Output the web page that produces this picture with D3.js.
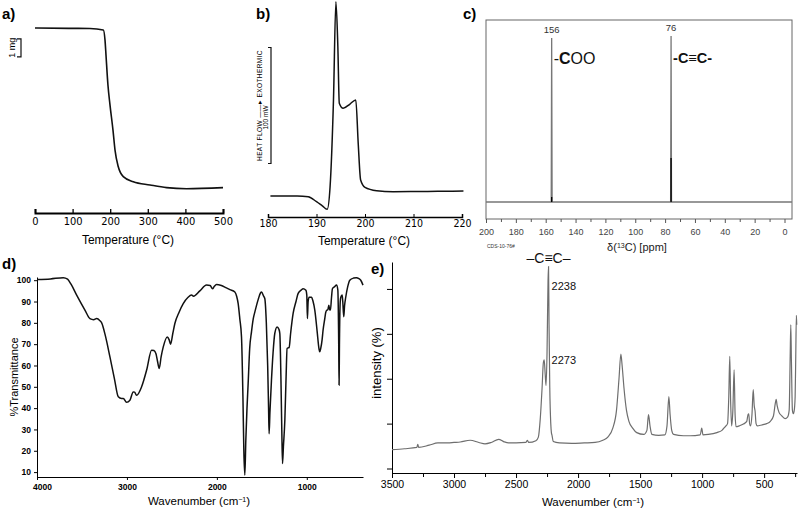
<!DOCTYPE html>
<html><head><meta charset="utf-8">
<script src="https://cdn.jsdelivr.net/npm/d3@7/dist/d3.min.js"></script>
<style>
body{margin:0;background:#fff;}
svg{display:block;font-family:"Liberation Sans",Arial,sans-serif;}
</style></head>
<body>
<svg id="chart" width="800" height="511"></svg>
<script>
// ---------- DATA ----------
// a) TGA: temperature (°C) vs mass (mg)
const tgaTemp = [0,90,146,181.6,186.2,188.8,194,199.5,207.4,212.8,221.5,234.8,261.4,305.9,350,403,500];
const tgaMass = [10,9.98,9.97,9.89,9.33,8.5,6.83,5.72,4.33,3.22,2.29,1.74,1.46,1.28,1.13,1.07,1.13];
const tgaTicks = [0,100,200,300,400,500];
const tgaBar = [8.4,9.4]; // 1 mg scale bar

// b) DSC: temperature (°C) vs heat flow (mW)
const dscTemp = [180.5,183,186,188.3,190,191.2,192.2,192.8,193.5,194.0,194.4,194.7,195.5,196.9,198.1,198.6,199.1,200,202.4,205.8,210,215,220.3];
const dscHeat = [0,0,0,-0.6,-4.9,-8.5,-11.5,8,82.8,167.5,129,80,75.6,79.3,82.8,45.4,13.8,7.5,4.6,3.7,3.8,4.0,4.3];
const dscTicks = [180,190,200,210,220];
const dscBar = [28,128]; // 100 mW scale bar

// c) 13C NMR: shift (ppm) vs intensity
const nmrShift = [200,156.3,156,155.7,76.3,76,75.7,-5];
const nmrInt   = [0,0,98.8,0,0,100,0,0];
const nmrInnerShift = [156,76];
const nmrInnerInt   = [3,26.5];
const nmrPeakLabels = ["156","76"];
const nmrTicks = [200,180,160,140,120,100,80,60,40,20,0];
const nmrMinor = [190,170,150,130,110,90,70,50,30,10];

// d) FTIR: wavenumber (cm-1) vs %Transmittance
const irWave = [4000,3850,3708,3660,3620,3559,3467,3411,3370,3337,3300,3281,3240,3189,3140,3096,3060,3040,3004,2967,2930,2915,2893,2837,2780,2726,2700,2678,2660,2641,2620,2596,2552,2530,2515,2490,2467,2420,2374,2320,2281,2260,2189,2115,2075,2048,2030,2004,1950,1900,1855,1800,1780,1763,1745,1726,1710,1700,1689,1678,1665,1652,1635,1615,1595,1578,1540,1515,1503,1480,1467,1450,1435,1425,1419,1410,1393,1375,1356,1330,1310,1300,1288,1278,1270,1260,1244,1230,1219,1196,1180,1152,1120,1096,1060,1041,1010,1000,993,985,974,948,930,911,885,865,856,845,830,819,800,789,775,767,755,745,737,725,715,690,670,655,645,641,637,628,622,607,600,589,580,567,545,522,480,448,420,400,375];
const irTrans = [100.3,100.6,101.2,100.5,98,93,86,82,81.5,82,81,80,74,64,54,45.3,44.5,44.5,42.7,43.7,47.6,47.5,46,50,58,67.2,67,65.6,62,58.6,64,68.7,73.4,72,70,75,79.7,85,89,92,93,92.5,95,97.7,97.5,96,97,98,97.5,96.5,95.6,94.5,92.5,89,82,73.4,45,20,8.6,25,40,51.6,68,75.8,82,85,91,94,94.5,92.5,91.4,80,60,40,28,38,53,66,75,78.1,77,75,55,30,14,22,34.4,55,68,68.5,75,84.4,90,93.8,95.5,96,95.3,93,82,90,92,92,90,86,76,68,66.4,68,72,76.6,82,85,86,86,88.3,86,86,92,96,97,97.7,95.5,70,50.8,70,90,92,93,90,82.8,88,92,97,100,101,101.2,100.7,100,97.7];
const irYTicks = [100,90,80,70,60,50,40,30,20,10];
const irXTicks = [4000,3000,2000,1000];

// e) Raman: wavenumber (cm-1) vs intensity
const ramWave = [3500,3400,3300,3292,3285,3200,3130,3050,3000,2950,2870,2800,2750,2700,2640,2600,2560,2500,2420,2408,2398,2340,2320,2305,2290,2280,2273,2265,2258,2250,2242,2238,2234,2228,2220,2215,2210,2200,2150,2050,1950,1863,1800,1760,1720,1690,1670,1655,1645,1630,1610,1590,1560,1527,1470,1445,1432,1420,1405,1350,1300,1283,1268,1258,1245,1230,1150,1097,1015,1003,993,950,881,840,815,795,785,777,770,762,752,742,734,726,700,667,640,630,624,617,610,598,588,580,573,565,555,520,479,450,425,410,403,395,380,360,331,310,298,290,285,280,272,265,258,250,245,240,237];
const ramInt  = [0.42,0.44,0.47,0.54,0.47,0.52,0.57,0.57,0.58,0.59,0.63,0.58,0.55,0.58,0.65,0.6,0.57,0.57,0.58,0.63,0.58,0.62,0.7,1.1,1.8,2.35,2.42,2.1,1.85,2.6,4.2,4.5,3.2,1.8,1.0,0.8,0.74,0.6,0.57,0.56,0.57,0.58,0.63,0.7,0.9,1.3,2.0,2.55,2.3,1.8,1.3,1.05,0.9,0.8,0.76,0.85,1.2,0.95,0.76,0.74,0.75,0.95,1.6,1.2,0.85,0.76,0.73,0.73,0.75,0.9,0.75,0.76,0.8,0.85,0.93,1.0,1.6,2.5,1.5,0.95,1.3,2.2,1.2,0.93,0.95,0.99,1.05,1.2,1.22,1.0,0.95,1.2,1.76,1.4,1.28,1.0,0.95,0.97,1.0,1.05,1.17,1.45,1.54,1.4,1.25,1.18,1.11,1.15,1.3,2.5,3.2,2.4,1.3,1.22,1.28,1.6,2.5,3.41,3.2];
const ramXTicks = [3500,3000,2500,2000,1500,1000,500];
const ramXMinor = [3250,2750,2250,1750,1250,750,250];
const ramYTicks = [0,1,2,3,4];
const ramLabels = [{t:"2238", w:2238, v:4.5},{t:"2273", w:2273, v:2.42}];

// ---------- DRAW ----------
const svg = d3.select("#chart");
svg.append("rect").attr("width",800).attr("height",511).attr("fill","#fff");

function label(x,y,t){ svg.append("text").attr("x",x).attr("y",y).attr("font-size",15).attr("font-weight","bold").text(t); }
label(2,19,"a)"); label(256,19,"b)"); label(463,19,"c)"); label(2,269,"d)"); label(371,274,"e)");

function zip(a,b){ return a.map((v,i)=>[v,b[i]]); }

// ===== a) TGA =====
{
  const x = d3.scaleLinear().domain([0,500]).range([35,223]);
  const y = d3.scaleLinear().domain([0,10]).range([208,28]);
  const g = svg.append("g");
  const ax = g.append("g").attr("transform","translate(0,213)")
    .call(d3.axisBottom(x).tickValues(tgaTicks).tickSize(-4).tickSizeOuter(-4).tickPadding(4).tickFormat(d3.format("d")));
  ax.select(".domain").attr("stroke-width",2);
  ax.selectAll("line").attr("stroke-width",1.3);
  ax.selectAll("text").attr("font-size",11).attr("font-family","DejaVu Sans Condensed, DejaVu Sans").attr("font-stretch","condensed");
  g.append("text").attr("x",128).attr("y",244).attr("text-anchor","middle").attr("font-size",12).text("Temperature (°C)");
  g.append("path").datum(zip(tgaTemp,tgaMass)).attr("fill","none").attr("stroke","#111").attr("stroke-width",1.6)
    .attr("d",d3.line().x(d=>x(d[0])).y(d=>y(d[1])).curve(d3.curveMonotoneX));
  // 1 mg bar
  const y0=y(tgaBar[0]), y1=y(tgaBar[1]);
  g.append("path").attr("d",`M17,${y1}H21V${y0}H17`).attr("fill","none").attr("stroke","#111").attr("stroke-width",1.2);
  g.append("text").attr("transform",`translate(15,${(y0+y1)/2}) rotate(-90)`).attr("text-anchor","middle").attr("font-size",9).text("1 mg");
}

// ===== b) DSC =====
{
  const x = d3.scaleLinear().domain([180,220]).range([268,462]);
  const y = d3.scaleLinear().domain([-20,170]).range([219.2,-1.2]);
  const g = svg.append("g");
  const ax = g.append("g").attr("transform","translate(0,217)")
    .call(d3.axisBottom(x).tickValues(dscTicks).tickSize(-3).tickSizeOuter(-3).tickPadding(3).tickFormat(d3.format("d")));
  ax.select(".domain").attr("stroke-width",1.5);
  ax.selectAll("text").attr("font-size",10.5).attr("font-family","DejaVu Sans Condensed, DejaVu Sans").attr("font-stretch","condensed");
  g.append("text").attr("x",364).attr("y",245).attr("text-anchor","middle").attr("font-size",12).text("Temperature (°C)");
  g.append("path").datum(zip(dscTemp,dscHeat)).attr("fill","none").attr("stroke","#111").attr("stroke-width",1.5)
    .attr("d",d3.line().x(d=>x(d[0])).y(d=>y(d[1])).curve(d3.curveMonotoneX));
  const y0=y(dscBar[0]), y1=y(dscBar[1]);
  g.append("path").attr("d",`M268,${y1}H271V${y0}H268`).attr("fill","none").attr("stroke","#111").attr("stroke-width",1.2);
  g.append("text").attr("transform",`translate(262,${(y0+y1)/2}) rotate(-90)`).attr("text-anchor","middle")
    .attr("font-size",6.5).attr("letter-spacing",0.4).text("HEAT FLOW \u2014\u2014\u25B8 EXOTHERMIC");
  g.append("text").attr("transform",`translate(268,${(y0+y1)/2+12}) rotate(-90)`).attr("text-anchor","middle")
    .attr("font-size",6.5).text("100 mW");
}

// ===== c) NMR =====
{
  const x = d3.scaleLinear().domain([200,0]).range([486,784.5]);
  const y = d3.scaleLinear().domain([0,100]).range([202,36]);
  const g = svg.append("g");
  g.append("rect").attr("x",486).attr("y",20).attr("width",306).attr("height",199).attr("fill","none").attr("stroke","#666").attr("stroke-width",1);
  const ax = g.append("g").attr("transform","translate(0,219)")
    .call(d3.axisBottom(x).tickValues(nmrTicks).tickSize(4).tickSizeOuter(0).tickPadding(6).tickFormat(d3.format("d")));
  ax.select(".domain").remove();
  ax.selectAll("line").attr("stroke","#555");
  ax.selectAll("text").attr("font-size",9).attr("fill","#444");
  g.append("g").attr("transform","translate(0,219)")
    .call(d3.axisBottom(x).tickValues(nmrMinor).tickSize(3).tickFormat(""))
    .call(s=>{s.select(".domain").remove(); s.selectAll("line").attr("stroke","#555");});
  g.append("path").datum(zip(nmrShift,nmrInt)).attr("fill","none").attr("stroke","#777").attr("stroke-width",1.3)
    .attr("d",d3.line().x(d=>x(d[0])).y(d=>y(d[1])));
  g.selectAll(".inner").data(zip(nmrInnerShift,nmrInnerInt)).enter().append("line")
    .attr("x1",d=>x(d[0])).attr("x2",d=>x(d[0])).attr("y1",y(0)).attr("y2",d=>y(d[1])).attr("stroke","#000").attr("stroke-width",1.3);
  g.selectAll(".pl").data(zip(nmrInnerShift,nmrPeakLabels)).enter().append("text")
    .attr("x",d=>x(d[0])).attr("y",(d,i)=>y(nmrInt[nmrShift.indexOf(d[0])])-5).attr("text-anchor","middle")
    .attr("font-size",9.5).attr("fill","#333").text(d=>d[1]);
  const t1 = g.append("text").attr("x",x(156)+2).attr("y",64).attr("font-size",16).attr("fill","#111");
  t1.append("tspan").text("-"); t1.append("tspan").attr("font-weight","bold").text("C"); t1.append("tspan").text("OO");
  g.append("text").attr("x",x(76)+2).attr("y",63).attr("font-size",14.5).attr("font-weight","bold").attr("fill","#111").text("-C\u2261C-");
  g.append("text").attr("x",637).attr("y",251).attr("text-anchor","middle").attr("font-size",11).attr("fill","#222")
    .html('δ(<tspan baseline-shift="super" font-size="7">13</tspan>C) [ppm]');
  g.append("text").attr("x",487).attr("y",248).attr("font-size",5).attr("fill","#333").text("CDS-10-76#");
}

// ===== d) FTIR =====
{
  const x = d3.scaleLinear().domain([4000,375]).range([37,363]);
  const y = d3.scaleLinear().domain([7.7,101.5]).range([477,277]);
  const g = svg.append("g");
  const ay = g.append("g").attr("transform","translate(37,0)")
    .call(d3.axisLeft(y).tickValues(irYTicks).tickSize(3).tickSizeOuter(0).tickPadding(3));
  ay.selectAll("text").attr("font-size",8.5).attr("font-weight","bold");
  const axx = g.append("g").attr("transform","translate(0,477)")
    .call(d3.axisBottom(x).tickValues(irXTicks).tickSize(3).tickSizeOuter(0).tickPadding(4).tickFormat(d3.format("d")));
  axx.selectAll("text").attr("font-size",8.5).attr("font-weight","bold");
  axx.selectAll(".tick text").filter(d=>d===4000).attr("dx",5);
  g.append("text").attr("transform","translate(18,377) rotate(-90)").attr("text-anchor","middle").attr("font-size",11).text("%Transmittance");
  g.append("text").attr("x",199).attr("y",505).attr("text-anchor","middle").attr("font-size",11.5)
    .html('Wavenumber (cm<tspan baseline-shift="super" font-size="7">−1</tspan>)');
  g.append("path").datum(zip(irWave,irTrans)).attr("fill","none").attr("stroke","#111").attr("stroke-width",1.5)
    .attr("d",d3.line().x(d=>x(d[0])).y(d=>y(d[1])).curve(d3.curveMonotoneX));
}

// ===== e) Raman =====
{
  const x = d3.scaleLinear().domain([3500,235]).range([392,797]);
  const y = d3.scaleLinear().domain([-0.1,4.6]).range([473,262]);
  const g = svg.append("g");
  g.append("g").attr("transform","translate(392,0)")
    .call(d3.axisLeft(y).tickValues(ramYTicks).tickSize(5).tickSizeOuter(0).tickFormat(""));
  const axx = g.append("g").attr("transform","translate(0,473)")
    .call(d3.axisBottom(x).tickValues(ramXTicks).tickSize(5).tickSizeOuter(0).tickPadding(3).tickFormat(d3.format("d")));
  axx.selectAll("text").attr("font-size",10.5);
  g.append("g").attr("transform","translate(0,473)")
    .call(d3.axisBottom(x).tickValues(ramXMinor).tickSize(4).tickFormat(""))
    .call(s=>s.select(".domain").remove());
  g.append("text").attr("transform","translate(381,363) rotate(-90)").attr("text-anchor","middle").attr("font-size",13).text("intensity (%)");
  g.append("text").attr("x",593).attr("y",506).attr("text-anchor","middle").attr("font-size",11.5)
    .html('Wavenumber (cm<tspan baseline-shift="super" font-size="7">−1</tspan>)');
  g.append("path").datum(zip(ramWave,ramInt)).attr("fill","none").attr("stroke","#6e6e6e").attr("stroke-width",1.2)
    .attr("d",d3.line().x(d=>x(d[0])).y(d=>y(d[1])).curve(d3.curveMonotoneX));
  g.selectAll(".rl").data(ramLabels).enter().append("text")
    .attr("x",d=>x(2238)+3).attr("y",(d,i)=>y(d.v)+(i===0?24:4)).attr("font-size",11).attr("fill","#111").text(d=>d.t);
  g.append("text").attr("x",x(2238)).attr("y",263).attr("text-anchor","middle").attr("font-size",14).attr("fill","#111").text("\u2013C\u2261C\u2013");
}
</script>
</body></html>
